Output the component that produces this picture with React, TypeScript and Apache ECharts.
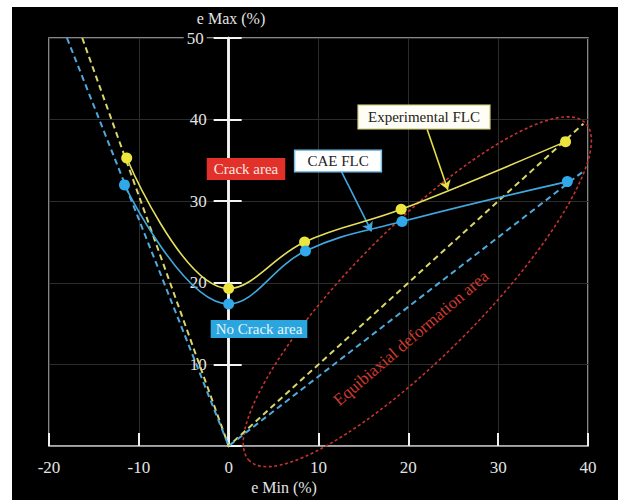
import { useEffect, useRef } from "react";
import * as echarts from "echarts";

// e Min (%) values and e Max (%) values
const expX = [-11.35, 0, 8.45, 19.2, 37.5];
const expY = [35.3, 19.3, 25.0, 29.0, 37.3];
const caeX = [-11.6, 0, 8.55, 19.3, 37.7];
const caeY = [32.0, 17.4, 23.9, 27.5, 32.4];
// dashed strain-path lines
const expLimitX = [-16.3, 0, 39.5];
const expLimitY = [50, 0, 39.5];
const caeLimitX = [-18, 0, 39.4];
const caeLimitY = [50, 0, 33.6];
// equibiaxial ellipse (centre and end of long axis, data units)
const ellipseCenter = [21, 18.9];
const ellipseTip = [39.7, 39.6];
const ellipseRatio = 0.27;
// callout arrows
const expArrow = [[22.1, 38.8], [24.4, 31.4]];
const caeArrow = [[12.57, 33.6], [15.9, 26.3]];

const X_MIN = -20;
const X_MAX = 40;
const Y_MIN = 0;
const Y_MAX = 50;
const STEP = 10;

const GRID_LEFT = 49;
const GRID_RIGHT = 42;
const CHART_W = 630;

const SERIF = "Liberation Serif";

const zip = (xs: number[], ys: number[]) => xs.map((x, i) => [x, ys[i]]);

export default function App() {
  const ref = useRef<HTMLDivElement>(null);
  useEffect(() => {
    if (!ref.current) return;
    const chart = echarts.init(ref.current, undefined, { renderer: "svg" });
    const labelColor = "#e4e4e4";
    const plotW = CHART_W - GRID_LEFT - GRID_RIGHT;
    const zeroOffset = -((0 - X_MIN) / (X_MAX - X_MIN)) * plotW;
    chart.setOption({
      animation: false,
      backgroundColor: "#ffffff",
      textStyle: { fontFamily: SERIF },
      grid: {
        left: GRID_LEFT,
        right: GRID_RIGHT,
        top: 38,
        bottom: 54,
        show: true,
        borderColor: "#b4b4b4",
        borderWidth: 1.5,
        backgroundColor: "transparent",
      },
      xAxis: {
        type: "value",
        min: X_MIN,
        max: X_MAX,
        interval: STEP,
        axisLine: { onZero: false, lineStyle: { color: "#b4b4b4", width: 1.5 } },
        axisTick: { inside: true, length: 13, lineStyle: { color: "#f0f0f0", width: 2 } },
        axisLabel: { color: labelColor, fontSize: 17, margin: 13, fontFamily: SERIF },
        splitLine: { lineStyle: { color: "#2c2c2c", width: 1 } },
      },
      yAxis: [
        {
          type: "value",
          min: Y_MIN,
          max: Y_MAX,
          interval: STEP,
          position: "left",
          offset: zeroOffset,
          axisLine: { show: true, onZero: false, lineStyle: { color: "#f4f4f4", width: 2.5 } },
          axisTick: { show: true, length: 15, lineStyle: { color: "#f4f4f4", width: 2 } },
          axisLabel: {
            color: labelColor,
            fontSize: 17,
            margin: 22,
            fontFamily: SERIF,
            showMinLabel: false,
            formatter: (v: number) => (v === Y_MAX ? `{b|${v}}` : `${v}`),
            rich: {
              b: { backgroundColor: "#000", padding: [0, 3], color: labelColor, fontSize: 17, fontFamily: SERIF },
            },
          },
          splitLine: { lineStyle: { color: "#2c2c2c", width: 1 } },
        },
        {
          type: "value",
          min: Y_MIN,
          max: Y_MAX,
          interval: STEP,
          position: "left",
          offset: zeroOffset,
          axisLine: { show: true, onZero: false, lineStyle: { color: "#f4f4f4", width: 2.5 } },
          axisTick: { show: true, inside: true, length: 13, lineStyle: { color: "#f4f4f4", width: 2 } },
          axisLabel: { show: false },
          splitLine: { show: false },
        },
      ],
      graphic: [
        {
          type: "rect",
          z: -10,
          silent: true,
          shape: { x: 12, y: 7, width: 606, height: 493 },
          style: { fill: "#000" },
        },
        {
          type: "text",
          x: 231,
          y: 18,
          z: 100,
          style: { text: "e Max (%)", fill: labelColor, font: `16px "${SERIF}"`, align: "center", verticalAlign: "middle" },
        },
        {
          type: "text",
          x: 284,
          y: 487,
          z: 100,
          style: { text: "e Min (%)", fill: labelColor, font: `16px "${SERIF}"`, align: "center", verticalAlign: "middle" },
        },
        {
          type: "text",
          x: 246,
          y: 169,
          z: 100,
          style: {
            text: "Crack area",
            fill: "#f8e8e0",
            font: `15px "${SERIF}"`,
            align: "center",
            verticalAlign: "middle",
            backgroundColor: "#e2302a",
            padding: [4, 7, 3, 7],
          },
        },
        {
          type: "text",
          x: 259,
          y: 329,
          z: 100,
          style: {
            text: "No Crack area",
            fill: "#e4f4fb",
            font: `15px "${SERIF}"`,
            align: "center",
            verticalAlign: "middle",
            backgroundColor: "#2aa5de",
            padding: [2, 5, 1, 5],
          },
        },
        {
          type: "text",
          x: 338,
          y: 161,
          z: 100,
          style: {
            text: "CAE FLC",
            fill: "#222",
            font: `15px "${SERIF}"`,
            align: "center",
            verticalAlign: "middle",
            backgroundColor: "#ffffff",
            borderColor: "#7cc0e8",
            borderWidth: 1.5,
            padding: [3, 12, 2, 12],
          },
        },
        {
          type: "text",
          x: 424,
          y: 117,
          z: 100,
          style: {
            text: "Experimental FLC",
            fill: "#222",
            font: `15px "${SERIF}"`,
            align: "center",
            verticalAlign: "middle",
            backgroundColor: "#fffef6",
            borderColor: "#e6e2a0",
            borderWidth: 1.5,
            padding: [4, 9, 3, 9],
          },
        },
        {
          type: "text",
          x: 411,
          y: 338,
          z: 100,
          rotation: (40.5 * Math.PI) / 180,
          style: {
            text: "Equibiaxial deformation area",
            fill: "#cc3a2e",
            font: `17px "${SERIF}"`,
            align: "center",
            verticalAlign: "middle",
          },
        },
      ],
      series: [
        {
          type: "custom",
          silent: true,
          clip: false,
          z: 3,
          data: [ellipseCenter],
          renderItem: (_params: any, api: any) => {
            const c = api.coord(ellipseCenter);
            const t = api.coord(ellipseTip);
            const dx = t[0] - c[0];
            const dy = t[1] - c[1];
            const a = Math.hypot(dx, dy);
            return {
              type: "ellipse",
              x: c[0],
              y: c[1],
              rotation: Math.atan2(-dy, dx),
              shape: { cx: 0, cy: 0, rx: a, ry: a * ellipseRatio },
              style: { fill: "none", stroke: "#c4342c", lineWidth: 1.6, lineDash: [3, 2.5] },
            };
          },
        },
        {
          type: "line",
          data: zip(expLimitX, expLimitY),
          showSymbol: false,
          symbol: "none",
          silent: true,
          z: 4,
          lineStyle: { color: "#d9d66a", width: 2, type: [6, 4] },
        },
        {
          type: "line",
          data: zip(caeLimitX, caeLimitY),
          showSymbol: false,
          symbol: "none",
          silent: true,
          z: 4,
          lineStyle: { color: "#4eaadc", width: 2, type: [6, 4] },
        },
        {
          type: "line",
          name: "Experimental FLC",
          data: zip(expX, expY),
          smooth: 0.4,
          symbol: "circle",
          symbolSize: 11,
          z: 6,
          lineStyle: { color: "#e6df5c", width: 1.6 },
          itemStyle: { color: "#ece53e" },
          markLine: {
            silent: true,
            symbol: ["none", "arrow"],
            symbolSize: 9,
            label: { show: false },
            lineStyle: { color: "#e6df4a", width: 1.6, type: "solid" },
            data: [[{ coord: expArrow[0] }, { coord: expArrow[1] }]],
          },
        },
        {
          type: "line",
          name: "CAE FLC",
          data: zip(caeX, caeY),
          smooth: 0.4,
          symbol: "circle",
          symbolSize: 11,
          z: 6,
          lineStyle: { color: "#40a8e0", width: 1.6 },
          itemStyle: { color: "#30a8ea" },
          markLine: {
            silent: true,
            symbol: ["none", "arrow"],
            symbolSize: 9,
            label: { show: false },
            lineStyle: { color: "#40a8e0", width: 1.6, type: "solid" },
            data: [[{ coord: caeArrow[0] }, { coord: caeArrow[1] }]],
          },
        },
      ],
    });
    return () => chart.dispose();
  }, []);
  return (
    <div
      ref={ref}
      style={{ position: "fixed", left: 0, top: 0, width: 630, height: 500 }}
    />
  );
}
